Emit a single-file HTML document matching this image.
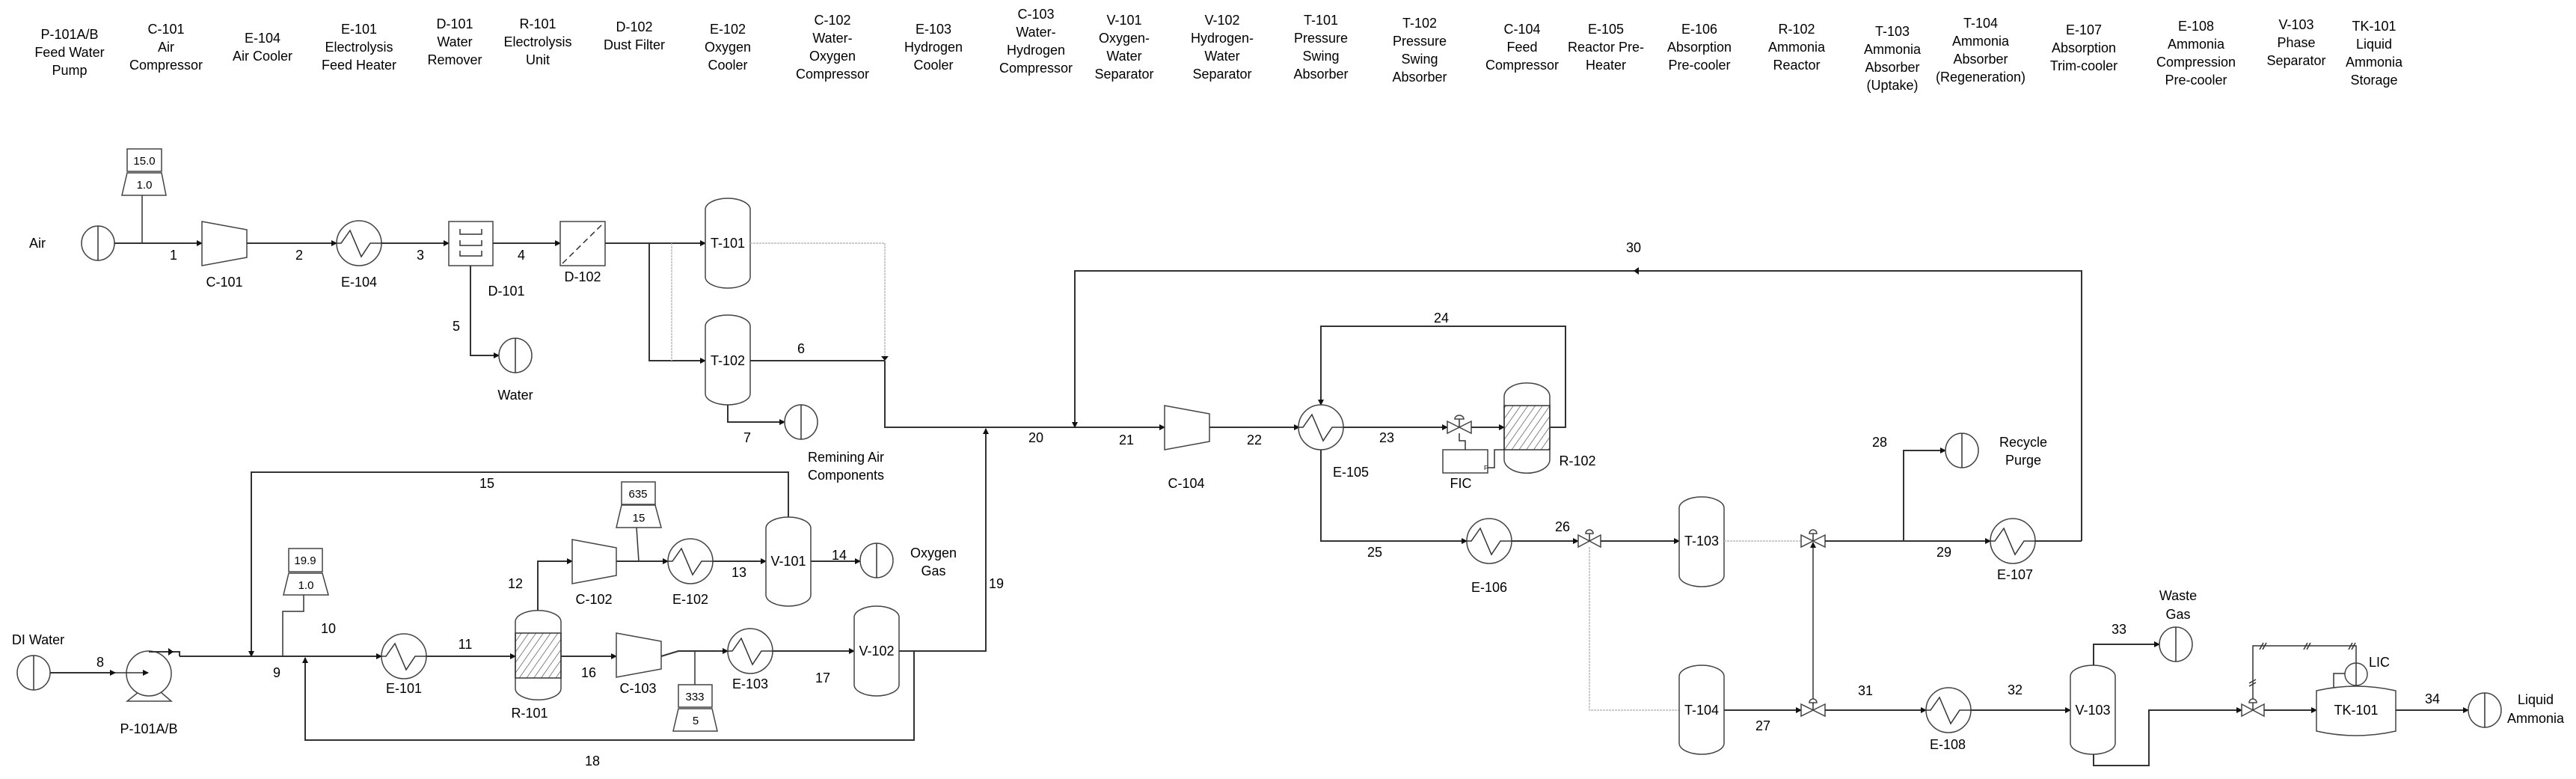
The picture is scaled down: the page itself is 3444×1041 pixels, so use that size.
<!DOCTYPE html>
<html><head><meta charset="utf-8"><style>
html,body{margin:0;padding:0;background:#fff;}
svg{display:block;}
text{font-family:"Liberation Sans",sans-serif;font-size:18px;fill:#000;}
.h{text-anchor:middle;}
.s{stroke:#333;stroke-width:2;fill:none;}
.t{stroke:#333;stroke-width:1.5;fill:none;}
.g{stroke:#bbb;stroke-width:1.5;fill:none;stroke-dasharray:3 1;}
.e{stroke:#444;stroke-width:1.5;fill:#fff;}
.ar{fill:#111;}
</style></head><body>
<svg width="3444" height="1041" viewBox="0 0 3444 1041" xmlns="http://www.w3.org/2000/svg">
<defs>
<marker id="a" markerWidth="8" markerHeight="8" refX="7" refY="4" orient="auto" markerUnits="userSpaceOnUse"><path d="M0,0 L8,4 L0,8 Z" class="ar"/></marker>
</defs>

<!-- HEADER -->
<g class="h">
<text x="93" y="52" class="h">P-101A/B</text><text x="93" y="76" class="h">Feed Water</text><text x="93" y="100" class="h">Pump</text>
<text x="222" y="45" class="h">C-101</text><text x="222" y="69" class="h">Air</text><text x="222" y="93" class="h">Compressor</text>
<text x="351" y="57" class="h">E-104</text><text x="351" y="81" class="h">Air Cooler</text>
<text x="480" y="45" class="h">E-101</text><text x="480" y="69" class="h">Electrolysis</text><text x="480" y="93" class="h">Feed Heater</text>
<text x="608" y="38" class="h">D-101</text><text x="608" y="62" class="h">Water</text><text x="608" y="86" class="h">Remover</text>
<text x="719" y="38" class="h">R-101</text><text x="719" y="62" class="h">Electrolysis</text><text x="719" y="86" class="h">Unit</text>
<text x="848" y="42" class="h">D-102</text><text x="848" y="66" class="h">Dust Filter</text>
<text x="973" y="45" class="h">E-102</text><text x="973" y="69" class="h">Oxygen</text><text x="973" y="93" class="h">Cooler</text>
<text x="1113" y="33" class="h">C-102</text><text x="1113" y="57" class="h">Water-</text><text x="1113" y="81" class="h">Oxygen</text><text x="1113" y="105" class="h">Compressor</text>
<text x="1248" y="45" class="h">E-103</text><text x="1248" y="69" class="h">Hydrogen</text><text x="1248" y="93" class="h">Cooler</text>
<text x="1385" y="25" class="h">C-103</text><text x="1385" y="49" class="h">Water-</text><text x="1385" y="73" class="h">Hydrogen</text><text x="1385" y="97" class="h">Compressor</text>
<text x="1503" y="33" class="h">V-101</text><text x="1503" y="57" class="h">Oxygen-</text><text x="1503" y="81" class="h">Water</text><text x="1503" y="105" class="h">Separator</text>
<text x="1634" y="33" class="h">V-102</text><text x="1634" y="57" class="h">Hydrogen-</text><text x="1634" y="81" class="h">Water</text><text x="1634" y="105" class="h">Separator</text>
<text x="1766" y="33" class="h">T-101</text><text x="1766" y="57" class="h">Pressure</text><text x="1766" y="81" class="h">Swing</text><text x="1766" y="105" class="h">Absorber</text>
<text x="1898" y="37" class="h">T-102</text><text x="1898" y="61" class="h">Pressure</text><text x="1898" y="85" class="h">Swing</text><text x="1898" y="109" class="h">Absorber</text>
<text x="2035" y="45" class="h">C-104</text><text x="2035" y="69" class="h">Feed</text><text x="2035" y="93" class="h">Compressor</text>
<text x="2147" y="45" class="h">E-105</text><text x="2147" y="69" class="h">Reactor Pre-</text><text x="2147" y="93" class="h">Heater</text>
<text x="2272" y="45" class="h">E-106</text><text x="2272" y="69" class="h">Absorption</text><text x="2272" y="93" class="h">Pre-cooler</text>
<text x="2402" y="45" class="h">R-102</text><text x="2402" y="69" class="h">Ammonia</text><text x="2402" y="93" class="h">Reactor</text>
<text x="2530" y="48" class="h">T-103</text><text x="2530" y="72" class="h">Ammonia</text><text x="2530" y="96" class="h">Absorber</text><text x="2530" y="120" class="h">(Uptake)</text>
<text x="2648" y="37" class="h">T-104</text><text x="2648" y="61" class="h">Ammonia</text><text x="2648" y="85" class="h">Absorber</text><text x="2648" y="109" class="h">(Regeneration)</text>
<text x="2786" y="46" class="h">E-107</text><text x="2786" y="70" class="h">Absorption</text><text x="2786" y="94" class="h">Trim-cooler</text>
<text x="2936" y="41" class="h">E-108</text><text x="2936" y="65" class="h">Ammonia</text><text x="2936" y="89" class="h">Compression</text><text x="2936" y="113" class="h">Pre-cooler</text>
<text x="3070" y="39" class="h">V-103</text><text x="3070" y="63" class="h">Phase</text><text x="3070" y="87" class="h">Separator</text>
<text x="3174" y="41" class="h">TK-101</text><text x="3174" y="65" class="h">Liquid</text><text x="3174" y="89" class="h">Ammonia</text><text x="3174" y="113" class="h">Storage</text>
</g>

<!-- ===== TOP AIR TRAIN ===== -->
<text x="50" y="331" class="h">Air</text>
<ellipse cx="131" cy="325" rx="22" ry="23" class="e"/><line x1="131" y1="302" x2="131" y2="348" class="t"/>
<line x1="153" y1="325" x2="270" y2="325" class="s" marker-end="url(#a)"/>
<text x="232" y="347" class="h">1</text>
<line x1="190" y1="261" x2="190" y2="325" class="t"/>
<rect x="170" y="199" width="46" height="30" class="e"/><text x="193" y="220" class="h" style="font-size:15px">15.0</text>
<polygon points="170,231 216,231 222,261 163,261" class="e"/><text x="193" y="252" class="h" style="font-size:15px">1.0</text>
<polygon points="270,296 330,307 330,344 270,355" class="e"/>
<text x="300" y="383" class="h">C-101</text>
<line x1="330" y1="325" x2="450" y2="325" class="s" marker-end="url(#a)"/>
<text x="400" y="347" class="h">2</text>
<circle cx="480" cy="325" r="30" class="e"/><polyline points="450,325 456,325 468,308 483,343 495,325 510,325" class="t"/>
<text x="480" y="383" class="h">E-104</text>
<line x1="510" y1="325" x2="600" y2="325" class="s" marker-end="url(#a)"/>
<text x="562" y="347" class="h">3</text>
<rect x="600" y="296" width="59" height="59" class="e"/>
<path d="M615,306 V313 H644 V306 M615,321 V328 H644 V321 M615,335 V342 H644 V335" class="t"/>
<text x="677" y="395" class="h">D-101</text>
<polyline points="629,355 629,475 667,475" class="s" marker-end="url(#a)"/>
<text x="610" y="442" class="h">5</text>
<ellipse cx="689" cy="475" rx="22" ry="23" class="e"/><line x1="689" y1="452" x2="689" y2="498" class="t"/>
<text x="689" y="534" class="h">Water</text>
<line x1="659" y1="325" x2="749" y2="325" class="s" marker-end="url(#a)"/>
<text x="697" y="347" class="h">4</text>
<rect x="749" y="296" width="60" height="59" class="e"/>
<line x1="752" y1="352" x2="806" y2="299" class="t" stroke-dasharray="8 5"/>
<text x="779" y="376" class="h">D-102</text>
<line x1="809" y1="325" x2="943" y2="325" class="s" marker-end="url(#a)"/>
<polyline points="868,325 868,482 943,482" class="s" marker-end="url(#a)"/>
<line x1="898" y1="325" x2="898" y2="482" class="g"/>
<path d="M943,280 A30,15 0 0 1 1003,280 V370 A30,15 0 0 1 943,370 Z" class="e"/>
<text x="973" y="331" class="h">T-101</text>
<polyline points="1003,325 1183,325 1183,480" class="g"/>
<path d="M1178,476 L1188,476 L1183,482 Z" class="ar"/>
<path d="M943,436 A30,15 0 0 1 1003,436 V526 A30,15 0 0 1 943,526 Z" class="e"/>
<text x="973" y="488" class="h">T-102</text>
<line x1="1003" y1="482" x2="1183" y2="482" class="s"/>
<text x="1071" y="472" class="h">6</text>
<polyline points="973,541 973,564 1049,564" class="s" marker-end="url(#a)"/>
<text x="999" y="591" class="h">7</text>
<ellipse cx="1071" cy="564" rx="22" ry="23" class="e"/><line x1="1071" y1="541" x2="1071" y2="587" class="t"/>
<text x="1131" y="617" class="h">Remining Air</text><text x="1131" y="641" class="h">Components</text>
<polyline points="1183,482 1183,571 1557,571" class="s" marker-end="url(#a)"/>

<!-- ===== Main feed / recycle 30 ===== -->
<polyline points="2783,723 2783,362 1437,362 1437,571" class="s" marker-end="url(#a)"/>
<path d="M2184,362 L2191,357 L2191,367 Z" class="ar"/>
<text x="2184" y="337" class="h">30</text>
<text x="1385" y="591" class="h">20</text>
<text x="1506" y="594" class="h">21</text>
<polygon points="1557,542 1617,553 1617,590 1557,601" class="e"/>
<text x="1586" y="652" class="h">C-104</text>
<line x1="1617" y1="571" x2="1737" y2="571" class="s" marker-end="url(#a)"/>
<text x="1677" y="594" class="h">22</text>
<polyline points="2072,571 2093,571 2093,436 1766,436 1766,541" class="s" marker-end="url(#a)"/>
<text x="1927" y="431" class="h">24</text>
<circle cx="1766" cy="571" r="30" class="e"/><polyline points="1736,571 1742,571 1754,554 1769,589 1781,571 1796,571" class="t"/>
<text x="1806" y="637" class="h">E-105</text>
<line x1="1796" y1="571" x2="1935" y2="571" class="s" marker-end="url(#a)"/>
<text x="1854" y="591" class="h">23</text>
<polygon points="1935,563 1951,571 1935,579" class="e"/><polygon points="1967,563 1951,571 1967,579" class="e"/>
<line x1="1951" y1="571" x2="1951" y2="560" class="t"/><path d="M1945,560 A6,5 0 0 1 1957,560 Z" class="e"/>
<line x1="1967" y1="571" x2="2011" y2="571" class="s" marker-end="url(#a)"/>
<path d="M2011,530 A30,18 0 0 1 2072,530 V614 A30,18 0 0 1 2011,614 Z" class="e"/>
<pattern id="hatch" width="8" height="8" patternUnits="userSpaceOnUse" patternTransform="rotate(35)"><line x1="0" y1="0" x2="0" y2="8" stroke="#333" stroke-width="1.2"/></pattern>
<rect x="2011" y="542" width="61" height="59" fill="url(#hatch)" stroke="#333" stroke-width="1.5"/>
<text x="2109" y="622" class="h">R-102</text>
<rect x="1929" y="601" width="60" height="31" class="e"/>
<text x="1984" y="628" style="font-size:8px">F</text>
<polyline points="1959,601 1959,589 1951,589 1951,579" class="t"/>
<polyline points="1989,625 1998,625 1998,601 2011,601" class="t"/>
<text x="1953" y="652" class="h">FIC</text>
<polyline points="1766,601 1766,723 1961,723" class="s" marker-end="url(#a)"/>
<text x="1838" y="744" class="h">25</text>
<circle cx="1991" cy="723" r="30" class="e"/><polyline points="1961,723 1967,723 1979,706 1994,741 2006,723 2021,723" class="t"/>
<text x="1991" y="791" class="h">E-106</text>
<line x1="2021" y1="723" x2="2110" y2="723" class="s" marker-end="url(#a)"/>
<text x="2089" y="710" class="h">26</text>
<polygon points="2110,715 2125,723 2110,731" class="e"/><polygon points="2140,715 2125,723 2140,731" class="e"/>
<line x1="2125" y1="723" x2="2125" y2="713" class="t"/><path d="M2120,713 A5,5 0 0 1 2130,713 Z" class="e"/>
<line x1="2140" y1="723" x2="2245" y2="723" class="s" marker-end="url(#a)"/>
<polyline points="2125,731 2125,949 2245,949" class="g"/>
<path d="M2245,679 A30,15 0 0 1 2305,679 V769 A30,15 0 0 1 2245,769 Z" class="e"/>
<text x="2275" y="729" class="h">T-103</text>
<path d="M2245,904 A30,15 0 0 1 2305,904 V993 A30,15 0 0 1 2245,993 Z" class="e"/>
<text x="2275" y="955" class="h">T-104</text>

<!-- right side -->
<line x1="2305" y1="723" x2="2408" y2="723" class="g"/>
<polygon points="2408,715 2424,723 2408,731" class="e"/><polygon points="2440,715 2424,723 2440,731" class="e"/>
<line x1="2424" y1="723" x2="2424" y2="713" class="t"/><path d="M2419,713 A5,5 0 0 1 2429,713 Z" class="e"/>
<line x1="2424" y1="941" x2="2424" y2="725" class="t" marker-end="url(#a)"/>
<line x1="2440" y1="723" x2="2661" y2="723" class="s" marker-end="url(#a)"/>
<polyline points="2545,723 2545,602 2601,602" class="s" marker-end="url(#a)"/>
<text x="2513" y="597" class="h">28</text>
<ellipse cx="2623" cy="602" rx="22" ry="23" class="e"/><line x1="2623" y1="579" x2="2623" y2="625" class="t"/>
<text x="2705" y="597" class="h">Recycle</text><text x="2705" y="621" class="h">Purge</text>
<text x="2599" y="744" class="h">29</text>
<circle cx="2691" cy="723" r="30" class="e"/><polyline points="2661,723 2667,723 2679,706 2694,741 2706,723 2721,723" class="t"/>
<line x1="2721" y1="723" x2="2783" y2="723" class="s"/>
<text x="2694" y="774" class="h">E-107</text>

<line x1="2305" y1="949" x2="2408" y2="949" class="s" marker-end="url(#a)"/>
<text x="2357" y="976" class="h">27</text>
<polygon points="2408,941 2424,949 2408,957" class="e"/><polygon points="2440,941 2424,949 2440,957" class="e"/>
<line x1="2424" y1="949" x2="2424" y2="939" class="t"/><path d="M2419,939 A5,5 0 0 1 2429,939 Z" class="e"/>
<line x1="2440" y1="949" x2="2575" y2="949" class="s" marker-end="url(#a)"/>
<text x="2494" y="929" class="h">31</text>
<circle cx="2605" cy="949" r="30" class="e"/><polyline points="2575,949 2581,949 2593,932 2608,967 2620,949 2635,949" class="t"/>
<text x="2604" y="1001" class="h">E-108</text>
<line x1="2635" y1="949" x2="2768" y2="949" class="s" marker-end="url(#a)"/>
<text x="2694" y="928" class="h">32</text>
<path d="M2768,904 A30,15 0 0 1 2828,904 V993 A30,15 0 0 1 2768,993 Z" class="e"/>
<text x="2798" y="955" class="h">V-103</text>
<polyline points="2799,889 2799,861 2887,861" class="s" marker-end="url(#a)"/>
<text x="2833" y="847" class="h">33</text>
<ellipse cx="2909" cy="861" rx="22" ry="23" class="e"/><line x1="2909" y1="838" x2="2909" y2="884" class="t"/>
<text x="2912" y="802" class="h">Waste</text><text x="2912" y="827" class="h">Gas</text>
<polyline points="2799,1008 2799,1023 2873,1023 2873,949 2997,949" class="s" marker-end="url(#a)"/>
<polygon points="2997,941 3012,949 2997,957" class="e"/><polygon points="3027,941 3012,949 3027,957" class="e"/>
<line x1="3012" y1="949" x2="3012" y2="939" class="t"/><path d="M3007,939 A5,5 0 0 1 3017,939 Z" class="e"/>
<polyline points="3012,934 3012,863 3150,863 3150,886" class="t"/>
<path d="M3021,868 l5,-9 M3025,868 l5,-9 M3080,868 l5,-9 M3084,868 l5,-9 M3140,868 l5,-9 M3144,868 l5,-9 M3007,913 l9,-5 M3007,917 l9,-5" class="t"/>
<line x1="3027" y1="949" x2="3097" y2="949" class="s" marker-end="url(#a)"/>
<path d="M3097,923 Q3150,911 3203,923 V977 Q3150,989 3097,977 Z" class="e"/>
<polyline points="3120,918 3120,900 3135,900 M3165,900 3180,900 3180,918" class="t"/>
<circle cx="3150" cy="901" r="15" class="e"/><line x1="3150" y1="886" x2="3150" y2="916" class="t"/>
<text x="3181" y="891" class="h">LIC</text>
<text x="3150" y="955" class="h">TK-101</text>
<line x1="3203" y1="949" x2="3300" y2="949" class="s" marker-end="url(#a)"/>
<text x="3252" y="940" class="h">34</text>
<ellipse cx="3322" cy="949" rx="22" ry="23" class="e"/><line x1="3322" y1="926" x2="3322" y2="972" class="t"/>
<text x="3390" y="941" class="h">Liquid</text><text x="3390" y="966" class="h">Ammonia</text>

<!-- ===== BOTTOM LEFT (electrolysis) ===== -->
<text x="51" y="861" class="h">DI Water</text>
<ellipse cx="45" cy="899" rx="22" ry="23" class="e"/><line x1="45" y1="876" x2="45" y2="922" class="t"/>
<line x1="67" y1="899" x2="154" y2="899" class="s" marker-end="url(#a)"/>
<text x="134" y="891" class="h">8</text>
<polygon points="170,937 229,937 215,925 185,925" class="e"/>
<circle cx="199" cy="900" r="30" class="e"/>
<line x1="154" y1="899" x2="198" y2="899" class="t" marker-end="url(#a)"/>
<polyline points="199,871 240,871 240,877" class="s"/><path d="M225,866 L232,871 L225,876 Z" class="ar"/>
<line x1="240" y1="877" x2="510" y2="877" class="s" marker-end="url(#a)"/>
<text x="199" y="980" class="h">P-101A/B</text>
<text x="370" y="905" class="h">9</text>
<text x="439" y="846" class="h">10</text>
<polyline points="1054,691 1054,631 336,631 336,877" class="s" marker-end="url(#a)"/>
<text x="651" y="652" class="h">15</text>
<polyline points="406,795 406,817 378,817 378,877" class="t"/>
<rect x="386" y="733" width="45" height="31" class="e"/><text x="408" y="754" class="h" style="font-size:15px">19.9</text>
<polygon points="386,766 431,766 439,795 379,795" class="e"/><text x="409" y="787" class="h" style="font-size:15px">1.0</text>
<polyline points="1222,870 1222,989 408,989 408,879" class="s" marker-end="url(#a)"/>
<text x="792" y="1023" class="h">18</text>
<circle cx="540" cy="877" r="30" class="e"/><polyline points="510,877 516,877 528,860 543,895 555,877 570,877" class="t"/>
<text x="540" y="926" class="h">E-101</text>
<line x1="570" y1="877" x2="689" y2="877" class="s" marker-end="url(#a)"/>
<text x="622" y="867" class="h">11</text>
<path d="M689,831 A30,15 0 0 1 750,831 V920 A30,15 0 0 1 689,920 Z" class="e"/>
<rect x="689" y="846" width="61" height="60" fill="url(#hatch)" stroke="#333" stroke-width="1.5"/>
<text x="708" y="959" class="h">R-101</text>
<polyline points="719,816 719,750 765,750" class="s" marker-end="url(#a)"/>
<text x="689" y="786" class="h">12</text>
<polygon points="765,721 824,732 824,769 765,780" class="e"/>
<text x="794" y="807" class="h">C-102</text>
<line x1="824" y1="750" x2="893" y2="750" class="s" marker-end="url(#a)"/>
<line x1="851" y1="705" x2="854" y2="750" class="t"/>
<rect x="831" y="644" width="45" height="30" class="e"/><text x="853" y="665" class="h" style="font-size:15px">635</text>
<polygon points="831,675 876,675 884,705 824,705" class="e"/><text x="854" y="697" class="h" style="font-size:15px">15</text>
<circle cx="923" cy="750" r="30" class="e"/><polyline points="893,750 899,750 911,733 926,768 938,750 953,750" class="t"/>
<text x="923" y="807" class="h">E-102</text>
<line x1="953" y1="750" x2="1024" y2="750" class="s" marker-end="url(#a)"/>
<text x="988" y="771" class="h">13</text>
<path d="M1024,706 A30,15 0 0 1 1084,706 V795 A30,15 0 0 1 1024,795 Z" class="e"/>
<text x="1054" y="756" class="h">V-101</text>
<line x1="1084" y1="750" x2="1150" y2="750" class="s" marker-end="url(#a)"/>
<text x="1122" y="748" class="h">14</text>
<ellipse cx="1172" cy="749" rx="22" ry="23" class="e"/><line x1="1172" y1="726" x2="1172" y2="772" class="t"/>
<text x="1248" y="745" class="h">Oxygen</text><text x="1248" y="769" class="h">Gas</text>
<line x1="750" y1="877" x2="824" y2="877" class="s" marker-end="url(#a)"/>
<text x="787" y="905" class="h">16</text>
<polygon points="824,846 884,857 884,894 824,905" class="e"/>
<text x="853" y="926" class="h">C-103</text>
<polyline points="884,877 907,870 973,870" class="s" marker-end="url(#a)"/>
<line x1="929" y1="870" x2="929" y2="915" class="t"/>
<rect x="907" y="915" width="45" height="30" class="e"/><text x="929" y="936" class="h" style="font-size:15px">333</text>
<polygon points="907,947 952,947 959,977 900,977" class="e"/><text x="930" y="968" class="h" style="font-size:15px">5</text>
<circle cx="1003" cy="870" r="30" class="e"/><polyline points="973,870 979,870 991,853 1006,888 1018,870 1033,870" class="t"/>
<text x="1003" y="920" class="h">E-103</text>
<line x1="1033" y1="870" x2="1142" y2="870" class="s" marker-end="url(#a)"/>
<text x="1100" y="912" class="h">17</text>
<path d="M1142,825 A30,15 0 0 1 1202,825 V915 A30,15 0 0 1 1142,915 Z" class="e"/>
<text x="1172" y="876" class="h">V-102</text>
<polyline points="1202,870 1318,870 1318,573" class="s" marker-end="url(#a)"/>
<text x="1332" y="786" class="h">19</text>
</svg>
</body></html>
